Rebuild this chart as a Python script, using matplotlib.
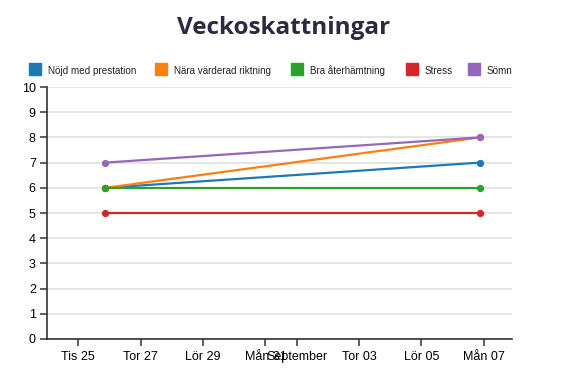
import matplotlib
matplotlib.use("Agg")
import matplotlib.pyplot as plt
import matplotlib.patches as mpatches
from datetime import datetime

# data
dates = [datetime(2020, 8, 25, 21), datetime(2020, 9, 6, 21)]
series_names = ["Nöjd med prestation", "Nära värderad riktning", "Bra återhämtning", "Stress", "Sömn"]
nojd = [6, 7]
nara = [6, 8]
bra = [6, 6]
stress = [5, 5]
somn = [7, 8]
colors = ["#1f77b4", "#ff7f0e", "#2ca02c", "#d62728", "#9467bd"]

tick_dates = [datetime(2020, 8, 25), datetime(2020, 8, 27), datetime(2020, 8, 29),
              datetime(2020, 8, 31), datetime(2020, 9, 1), datetime(2020, 9, 3),
              datetime(2020, 9, 5), datetime(2020, 9, 7)]
tick_labels = ["Tis 25", "Tor 27", "Lör 29", "Mån 31", "September", "Tor 03", "Lör 05", "Mån 07"]

plt.rcParams['font.family'] = ['Liberation Sans', 'DejaVu Sans']

fig = plt.figure(figsize=(5.68, 3.78), dpi=100)
ax = fig.add_axes([0.0827, 0.1032, 0.8187, 0.6666])

for vals, c in zip([nojd, nara, bra, stress, somn], colors):
    ax.plot(dates, vals, '-o', color=c, lw=1.6, ms=4.2, zorder=3)

ax.set_ylim(0, 10)
ax.set_yticks(range(0, 11))
ax.set_xlim(datetime(2020, 8, 24, 0), datetime(2020, 9, 7, 21, 40))
ax.set_xticks(tick_dates)
ax.set_xticklabels(tick_labels)
ax.grid(axis='y', color='#e0e0e0', lw=1.2, zorder=0)
for s in ['top', 'right']:
    ax.spines[s].set_visible(False)
for s in ['left', 'bottom']:
    ax.spines[s].set_color('#333333')
    ax.spines[s].set_linewidth(1.2)
ax.tick_params(axis='both', labelsize=9, color='#333333', length=5, width=1.1, pad=3)
ax.tick_params(axis='x', pad=4)

fig.text(0.5, 1 - 28 / 378, "Veckoskattningar", ha='center', va='center', fontsize=17.5,
         fontweight='bold', color='#2a2a40', family=['Open Sans', 'DejaVu Sans'])

# legend
leg_x = [29, 155, 291, 406, 468]
for x, name, c in zip(leg_x, series_names, colors):
    fig.patches.append(mpatches.Rectangle((x / 568, 1 - 75 / 378), 12 / 568, 12 / 378,
                                          transform=fig.transFigure, color=c, figure=fig))
    fig.text((x + 19) / 568, 1 - 69.5 / 378, name, fontsize=7.1, va='center_baseline',
             ha='left', color='#222222')

fig.savefig("out.png", dpi=100)
